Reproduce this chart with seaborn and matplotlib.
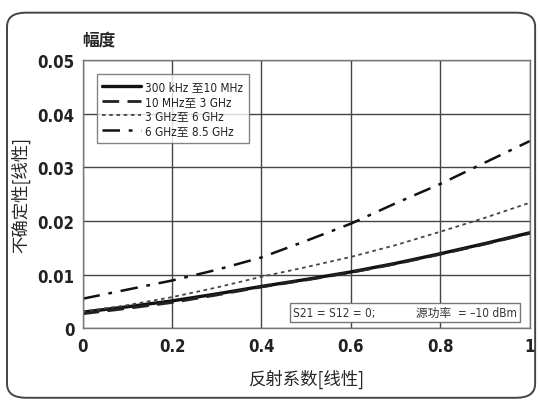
import matplotlib
matplotlib.use("Agg")
import matplotlib.pyplot as plt
from matplotlib.patches import FancyBboxPatch
import seaborn as sns
import pandas as pd

# reflection coefficient (linear)
gamma = [0.0, 0.1, 0.2, 0.3, 0.4, 0.5, 0.6, 0.7, 0.8, 0.9, 1.0]

# uncertainty per frequency band
u_300k_10m = [0.0030, 0.0040, 0.0051, 0.0064, 0.0078, 0.0091, 0.0105, 0.0121, 0.0139, 0.0158, 0.0178]
u_10m_3g = [0.0027, 0.0037, 0.0048, 0.0062, 0.0077, 0.0090, 0.0104, 0.0120, 0.0138, 0.0157, 0.0177]
u_3g_6g = [0.0031, 0.0043, 0.0058, 0.0076, 0.0096, 0.0114, 0.0133, 0.0155, 0.0180, 0.0206, 0.0234]
u_6g_85g = [0.0055, 0.0072, 0.0089, 0.0109, 0.0132, 0.0163, 0.0195, 0.0233, 0.0269, 0.0309, 0.0349]

labels = ["300 kHz 至10 MHz", "10 MHz至 3 GHz", "3 GHz至 6 GHz", "6 GHz至 8.5 GHz"]
x_ticks = [0, 0.2, 0.4, 0.6, 0.8, 1]
x_tick_labels = ["0", "0.2", "0.4", "0.6", "0.8", "1"]
y_ticks = [0, 0.01, 0.02, 0.03, 0.04, 0.05]
y_tick_labels = ["0", "0.01", "0.02", "0.03", "0.04", "0.05"]

sns.set_style("white")
fonts = ["DejaVu Sans", "Noto Sans CJK SC"]
plt.rcParams["font.family"] = fonts
plt.rcParams["font.stretch"] = "condensed"

fig = plt.figure(figsize=(5.4, 4.02), dpi=100)
ax = fig.add_axes([0.153, 0.181, 0.828, 0.667])

# rounded outer frame
frame = FancyBboxPatch((0.013, 0.008), 0.978, 0.958, boxstyle="round,pad=0,rounding_size=0.035",
                       transform=fig.transFigure, fill=False, edgecolor="#444444", linewidth=1.4)
fig.patches.append(frame)

series = [u_300k_10m, u_10m_3g, u_3g_6g, u_6g_85g]
styles = [
    dict(color="#111111", linewidth=2.4, linestyle="-"),
    dict(color="#222222", linewidth=2.0, linestyle=(0, (6, 3))),
    dict(color="#444444", linewidth=1.3, linestyle=(0, (2, 2))),
    dict(color="#111111", linewidth=1.8, linestyle=(0, (7, 3.5, 1.5, 3.5))),
]
for vals, lab, st in zip(series, labels, styles):
    df = pd.DataFrame({"gamma": gamma, "u": vals})
    sns.lineplot(data=df, x="gamma", y="u", ax=ax, label=lab, **st)

ax.set_xlim(0, 1)
ax.set_ylim(0, 0.05)
ax.set_xticks(x_ticks)
ax.set_xticklabels(x_tick_labels)
ax.set_yticks(y_ticks)
ax.set_yticklabels(y_tick_labels)
ax.tick_params(axis="both", labelsize=12, length=0, pad=6, colors="#222222")
for t in ax.get_xticklabels() + ax.get_yticklabels():
    t.set_fontweight("bold")
ax.grid(True, color="#444444", linewidth=1.0)
for sp in ax.spines.values():
    sp.set_color("#777777")
    sp.set_linewidth(1.0)

cjk = ["Noto Sans CJK SC", "DejaVu Sans"]
ax.set_xlabel("反射系数[线性]", fontsize=12.5, labelpad=10, family=cjk, fontweight="medium")
ax.set_ylabel("不确定性[线性]", fontsize=12.5, labelpad=5, family=cjk, fontweight="medium")
ax.text(0.0, 1.075, "幅度", transform=ax.transAxes, fontsize=12, fontweight="bold",
        ha="left", va="center", family=cjk)

leg = ax.legend(loc="upper left", bbox_to_anchor=(0.018, 0.97),
                prop=dict(size=8.5, stretch="condensed", family=fonts),
                handlelength=3.3, handletextpad=0.3, labelspacing=0.15,
                borderpad=0.5, frameon=True, fancybox=False)
leg.get_frame().set_edgecolor("#666666")
leg.get_frame().set_linewidth(1.0)
for t in leg.get_texts():
    t.set_color("#222222")

ax.text(0.972, 0.06, "S21 = S12 = 0;            源功率  = –10 dBm", transform=ax.transAxes,
        fontsize=8.5, ha="right", va="center", color="#333333",
        bbox=dict(boxstyle="square,pad=0.25", facecolor="white", edgecolor="#777777", linewidth=1.0))

fig.savefig("out.png", dpi=100)
